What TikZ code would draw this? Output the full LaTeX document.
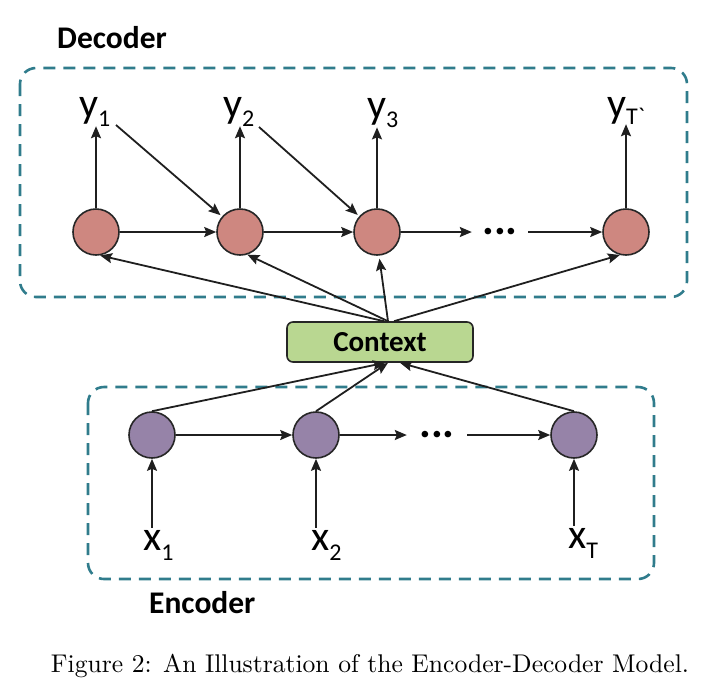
\documentclass[tikz,border=0pt]{standalone}
\usepackage{fontspec}
\setsansfont{Carlito}
\usetikzlibrary{arrows.meta}
\definecolor{decfill}{RGB}{206,135,128}
\definecolor{encfill}{RGB}{150,131,168}
\definecolor{ctxfill}{RGB}{185,215,145}
\definecolor{boxline}{RGB}{48,124,140}
\tikzset{
  cell/.style={circle,draw=black!85,line width=1.6pt,minimum size=46pt,inner sep=0pt},
  deccell/.style={cell,fill=decfill},
  enccell/.style={cell,fill=encfill},
  link/.style={line width=1.8pt,draw=black!88,-{Stealth[length=12pt,width=10pt,inset=2pt]}},
  group/.style={draw=boxline,line width=2.6pt,dash pattern=on 12pt off 8pt,rounded corners=16pt},
  seq/.style={font=\sffamily\fontsize{42}{42}\selectfont,inner sep=2pt,anchor=base west},
  title/.style={font=\sffamily\bfseries\fontsize{31.5}{31.5}\selectfont,inner sep=0pt,anchor=base west},
  dotsnode/.style={font=\sffamily\bfseries\fontsize{44}{44}\selectfont,inner sep=0pt,
    minimum height=20pt},
  ctxbox/.style={draw=black!85,line width=1.6pt,fill=ctxfill,rounded corners=6pt,
    minimum width=186pt,minimum height=40pt,font=\sffamily\bfseries\fontsize{29}{29}\selectfont}
}
\newcommand\subidx[2][9pt]{\raisebox{-#1}{\fontsize{24}{24}\selectfont #2}}
\newcommand\elide{\raisebox{2pt}{...}}
\begin{document}
\begin{tikzpicture}[x=1pt,y=-1pt]
  \useasboundingbox (0,0) rectangle (702,689);

  % group frames
  \draw[group] (20,68) rectangle (687,297);
  \draw[group] (88,387) rectangle (654,579);
  \node[title] (dectitle) at (57,48) {Decoder};
  \node[title] (enctitle) at (149,613) {Encoder};

  % decoder cells
  \node[deccell] (d1) at (96,232) {};
  \node[deccell] (d2) at (240,232) {};
  \node[deccell] (d3) at (377,232) {};
  \node[dotsnode,minimum width=56pt] (ddots) at (500,232) {\elide};
  \node[deccell] (d4) at (626,232) {};

  % decoder outputs
  \node[seq] (y1) at (77,117) {y\subidx{1}};
  \node[seq] (y2) at (221,117) {y\subidx{2}};
  \node[seq] (y3) at (365,118) {y\subidx{3}};
  \node[seq] (yT) at (605,117) {y\subidx[7pt]{T\textasciigrave}};
  \coordinate (y1e) at (116,125);
  \coordinate (y2e) at (259,127);

  % context vector
  \node[ctxbox] (ctx) at (380,342) {Context};

  % encoder cells
  \node[enccell] (e1) at (152,435) {};
  \node[enccell] (e2) at (316,435) {};
  \node[dotsnode,minimum width=60pt] (edots) at (437,435) {\elide};
  \node[enccell] (e3) at (574,435) {};

  % encoder inputs
  \node[seq] (x1) at (141,550) {x\subidx[10pt]{1}};
  \node[seq] (x2) at (309,550) {x\subidx[10pt]{2}};
  \node[seq] (xT) at (566,548) {x\subidx[10pt]{T}};

  % decoder recurrence
  \draw[link] (d1) -- (d2);
  \draw[link] (d2) -- (d3);
  \draw[link] (d3) -- (ddots.west);
  \draw[link] (ddots.east) -- (d4);
  \draw[link] (d1.north) -- ([yshift=2pt]d1 |- y1.south);
  \draw[link] (d2.north) -- ([yshift=2pt]d2 |- y2.south);
  \draw[link] (d3.north) -- ([yshift=2pt]d3 |- y3.south);
  \draw[link] (d4.north) -- ([yshift=2pt]d4 |- yT.south);
  \draw[link,shorten >=2pt] (y1e) -- (d2);
  \draw[link,shorten >=2pt] (y2e) -- (d3);

  % context feeds every decoder step
  \draw[link] ([xshift=4pt]ctx.north) -- (d1.-80);
  \draw[link] ([xshift=8pt]ctx.north) -- (d2.-72);
  \draw[link,shorten >=3pt] ([xshift=8pt]ctx.north) -- (d3.-85);
  \draw[link] ([xshift=14pt]ctx.north) -- (d4.-105);

  % encoder recurrence
  \draw[link] (e1) -- (e2);
  \draw[link] (e2) -- (edots.west);
  \draw[link] (edots.east) -- (e3);
  \draw[link] (x1.north -| e1) -- (e1);
  \draw[link] (x2.north -| e2) -- (e2);
  \draw[link] (xT.north -| e3) -- (e3);

  % encoder states into the context
  \draw[link] (e1.north) -- ([xshift=5pt]ctx.south);
  \draw[link] (e2.north) -- ([xshift=8pt]ctx.south);
  \draw[link] (e3.north) -- ([xshift=20pt]ctx.south);

  % caption, set at 10pt and enlarged
  \node[scale=2.56,anchor=base] (caption) at (370,672)
    {\fontsize{10}{12}\selectfont Figure 2: An Illustration of the Encoder-Decoder Model.};
\end{tikzpicture}
\end{document}
